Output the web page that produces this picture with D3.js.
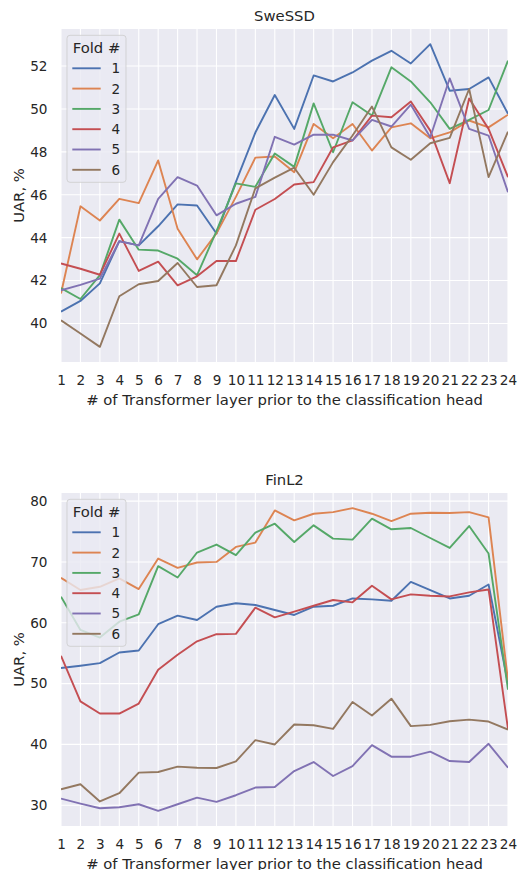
<!DOCTYPE html>
<html>
<head>
<meta charset="utf-8">
<script src="https://cdn.jsdelivr.net/npm/d3@7"></script>
<style>
  body { margin: 0; background: #fff; }
  svg { font-family: "DejaVu Sans", sans-serif; }
</style>
</head>
<body>
<svg id="chart" width="518" height="870"></svg>
<script>
// layer index on the x axis
var layers = [1, 2, 3, 4, 5, 6, 7, 8, 9, 10, 11, 12, 13, 14, 15, 16, 17, 18, 19, 20, 21, 22, 23, 24];
var foldNames = ["1", "2", "3", "4", "5", "6"];

// SweSSD, UAR % per fold
var sweFold1 = [40.55, 41.05, 41.87, 43.84, 43.64, 44.53, 45.55, 45.5, 44.19, 46.6, 48.9, 50.65, 49.07, 51.56, 51.28, 51.7, 52.25, 52.71, 52.12, 53.02, 50.85, 50.93, 51.47, 49.77];
var sweFold2 = [41.4, 45.46, 44.8, 45.81, 45.61, 47.6, 44.42, 42.99, 44.2, 45.9, 47.73, 47.78, 47.05, 49.3, 48.63, 49.3, 48.06, 49.14, 49.33, 48.63, 48.91, 49.46, 49.14, 49.73];
var sweFold3 = [41.65, 41.14, 42.25, 44.84, 43.44, 43.4, 43.02, 42.25, 44.3, 46.53, 46.37, 47.92, 47.3, 50.26, 47.98, 50.31, 49.69, 51.94, 51.28, 50.31, 49.07, 49.49, 49.95, 52.25];
var sweFold4 = [42.8, 42.55, 42.27, 44.19, 42.45, 42.88, 41.78, 42.2, 42.91, 42.91, 45.3, 45.8, 46.48, 46.59, 48.21, 48.53, 49.69, 49.61, 50.35, 48.99, 46.54, 50.49, 49.07, 46.82];
var sweFold5 = [41.55, 41.8, 42.09, 43.83, 43.64, 45.81, 46.82, 46.43, 45.04, 45.58, 45.9, 48.7, 48.34, 48.8, 48.8, 48.53, 49.49, 49.18, 50.2, 48.68, 51.42, 49.07, 48.76, 46.12];
var sweFold6 = [40.15, 39.53, 38.91, 41.27, 41.83, 41.98, 42.82, 41.7, 41.78, 43.64, 46.3, 46.8, 47.26, 46.0, 47.52, 48.76, 50.11, 48.21, 47.63, 48.4, 48.65, 50.93, 46.82, 48.94];

// FinL2, UAR % per fold
var finFold1 = [52.55, 52.93, 53.37, 55.11, 55.44, 59.76, 61.17, 60.46, 62.64, 63.2, 62.92, 62.1, 61.28, 62.64, 62.8, 64.0, 63.85, 63.62, 66.73, 65.38, 64.0, 64.44, 66.29, 50.0];
var finFold2 = [67.39, 65.38, 65.92, 67.29, 65.54, 70.56, 69.03, 69.91, 70.01, 72.47, 73.19, 78.48, 76.84, 77.93, 78.2, 78.85, 77.93, 76.73, 77.93, 78.1, 78.04, 78.2, 77.33, 50.5];
var finFold3 = [64.28, 58.82, 57.56, 60.18, 61.39, 69.31, 67.45, 71.55, 72.86, 71.11, 74.82, 76.29, 73.29, 76.02, 73.84, 73.68, 77.12, 75.37, 75.58, 73.94, 72.3, 75.91, 71.38, 49.0];
var finFold4 = [54.56, 47.08, 45.07, 45.07, 46.71, 52.28, 54.73, 56.95, 58.12, 58.18, 62.48, 60.9, 61.82, 62.8, 63.74, 63.36, 66.08, 63.85, 64.67, 64.44, 64.33, 64.99, 65.48, 42.5];
var finFold5 = [31.08, 30.27, 29.5, 29.67, 30.16, 29.07, 30.16, 31.25, 30.54, 31.64, 32.9, 33.0, 35.62, 37.1, 34.8, 36.44, 39.88, 37.98, 37.98, 38.8, 37.26, 37.1, 40.1, 36.17];
var finFold6 = [32.62, 33.44, 30.61, 31.97, 35.35, 35.46, 36.34, 36.17, 36.12, 37.21, 40.7, 39.99, 43.27, 43.15, 42.56, 46.98, 44.74, 47.52, 43.0, 43.21, 43.81, 44.08, 43.76, 42.45];

var sweTicks = [40, 42, 44, 46, 48, 50, 52];
var finTicks = [30, 40, 50, 60, 70, 80];

var colors = ["#4C72B0", "#DD8452", "#55A868", "#C44E52", "#8172B3", "#937860"];
var textColor = "#262626";
var tickSize = "13.6px", labelSize = "14.8px";

var svg = d3.select("#chart");

function drawPanel(opt) {
  var left = 61, right = 508;
  var top = opt.top, bottom = opt.top + 333;

  var x = d3.scaleLinear().domain([1, 24]).range([left, right]);

  // matplotlib style 5% padding around the data
  var all = d3.merge(opt.series);
  var lo = d3.min(all), hi = d3.max(all), pad = (hi - lo) * 0.05;
  var y = d3.scaleLinear().domain([lo - pad, hi + pad]).range([bottom, top]);

  var g = svg.append("g");

  g.append("rect")
      .attr("x", left).attr("y", top)
      .attr("width", right - left).attr("height", bottom - top)
      .attr("fill", "#EAEAF2");

  // grid
  g.append("g").selectAll("line").data(layers).join("line")
      .attr("x1", function(d) { return x(d); }).attr("x2", function(d) { return x(d); })
      .attr("y1", top).attr("y2", bottom)
      .attr("stroke", "#fff").attr("stroke-width", 1.1);
  g.append("g").selectAll("line").data(opt.ticks).join("line")
      .attr("x1", left).attr("x2", right)
      .attr("y1", function(d) { return y(d); }).attr("y2", function(d) { return y(d); })
      .attr("stroke", "#fff").attr("stroke-width", 1.1);

  // axes
  var xAxis = g.append("g")
      .attr("transform", "translate(0," + bottom + ")")
      .call(d3.axisBottom(x).tickValues(layers).tickSize(0).tickPadding(13.5).tickFormat(d3.format("d")));
  var yAxis = g.append("g")
      .attr("transform", "translate(" + left + ",0)")
      .call(d3.axisLeft(y).tickValues(opt.ticks).tickSize(0).tickPadding(13.5));
  [xAxis, yAxis].forEach(function(a) {
    a.select(".domain").remove();
    a.selectAll("text").attr("fill", textColor)
        .style("font-size", tickSize).style("font-family", "DejaVu Sans");
  });

  // lines
  var clipId = "clip" + top;
  g.append("clipPath").attr("id", clipId).append("rect")
      .attr("x", left).attr("y", top).attr("width", right - left).attr("height", bottom - top);

  var line = d3.line()
      .x(function(d, i) { return x(layers[i]); })
      .y(function(d) { return y(d); });

  g.append("g").attr("clip-path", "url(#" + clipId + ")")
    .selectAll("path").data(opt.series).join("path")
      .attr("d", line)
      .attr("fill", "none")
      .attr("stroke", function(d, i) { return colors[i]; })
      .attr("stroke-width", 1.9)
      .attr("stroke-linejoin", "round");

  // title + labels
  g.append("text").attr("x", (left + right) / 2).attr("y", top - 8.5)
      .attr("text-anchor", "middle").attr("fill", textColor)
      .style("font-size", labelSize).text(opt.title);
  g.append("text").attr("x", (left + right) / 2).attr("y", bottom + 42.5)
      .attr("text-anchor", "middle").attr("fill", textColor)
      .style("font-size", labelSize).text("# of Transformer layer prior to the classification head");
  g.append("text")
      .attr("transform", "translate(23.5," + ((top + bottom) / 2) + ") rotate(-90)")
      .attr("text-anchor", "middle").attr("fill", textColor)
      .style("font-size", labelSize).text("UAR, %");

  // legend
  var lg = g.append("g").attr("transform", "translate(67," + (top + 6.3) + ")");
  lg.append("rect")
      .attr("x", 0).attr("y", 0).attr("width", 59).attr("height", 147)
      .attr("rx", 3)
      .attr("fill", "#EAEAF2").attr("fill-opacity", 0.8)
      .attr("stroke", "#cccccc").attr("stroke-opacity", 0.8).attr("stroke-width", 1);
  lg.append("text").attr("x", 29.5).attr("y", 17.8)
      .attr("text-anchor", "middle").attr("fill", textColor)
      .style("font-size", labelSize).text("Fold #");
  var item = lg.selectAll("g.item").data(foldNames).join("g")
      .attr("class", "item")
      .attr("transform", function(d, i) { return "translate(0," + (33 + i * 20.3) + ")"; });
  item.append("line")
      .attr("x1", 5.3).attr("x2", 33.7).attr("y1", 0).attr("y2", 0)
      .attr("stroke", function(d, i) { return colors[i]; })
      .attr("stroke-width", 1.9);
  item.append("text").attr("x", 44.5).attr("y", 4.9)
      .attr("fill", textColor).style("font-size", tickSize).text(function(d) { return d; });
}

drawPanel({
  title: "SweSSD", top: 29, ticks: sweTicks,
  series: [sweFold1, sweFold2, sweFold3, sweFold4, sweFold5, sweFold6]
});
drawPanel({
  title: "FinL2", top: 493, ticks: finTicks,
  series: [finFold1, finFold2, finFold3, finFold4, finFold5, finFold6]
});
</script>
</body>
</html>
